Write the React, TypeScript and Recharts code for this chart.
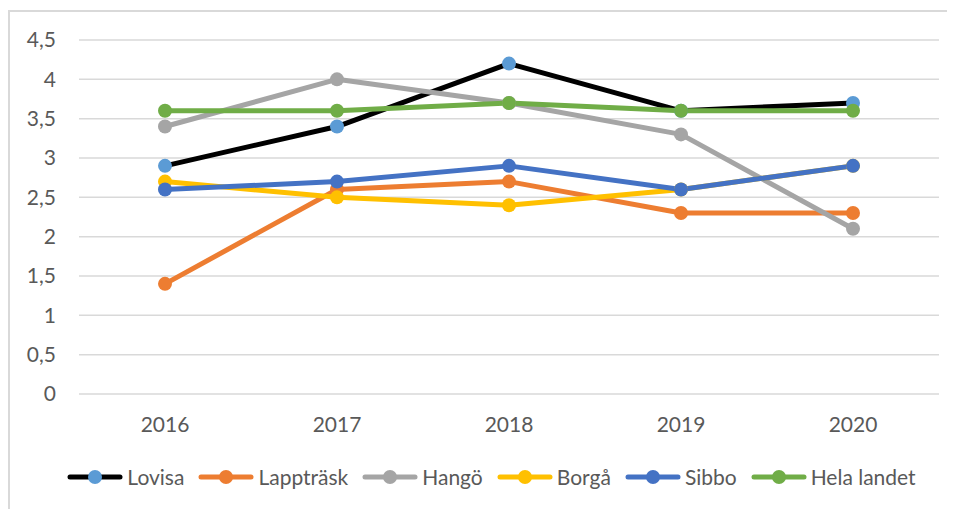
import React from "react";
import {
  LineChart,
  Line,
  XAxis,
  YAxis,
  CartesianGrid,
  Legend,
} from "recharts";

const years = ["2016", "2017", "2018", "2019", "2020"];
const lovisa = [2.9, 3.4, 4.2, 3.6, 3.7];
const lapptrask = [1.4, 2.6, 2.7, 2.3, 2.3];
const hango = [3.4, 4.0, 3.7, 3.3, 2.1];
const borga = [2.7, 2.5, 2.4, 2.6, 2.9];
const sibbo = [2.6, 2.7, 2.9, 2.6, 2.9];
const helaLandet = [3.6, 3.6, 3.7, 3.6, 3.6];
const yTicks = [0, 0.5, 1, 1.5, 2, 2.5, 3, 3.5, 4, 4.5];

type Series = {
  key: string;
  name: string;
  values: number[];
  line: string;
  marker: string;
};

const series: Series[] = [
  { key: "lovisa", name: "Lovisa", values: lovisa, line: "#000000", marker: "#5b9bd5" },
  { key: "lapptrask", name: "Lappträsk", values: lapptrask, line: "#ed7d31", marker: "#ed7d31" },
  { key: "hango", name: "Hangö", values: hango, line: "#a5a5a5", marker: "#a5a5a5" },
  { key: "borga", name: "Borgå", values: borga, line: "#ffc000", marker: "#ffc000" },
  { key: "sibbo", name: "Sibbo", values: sibbo, line: "#4472c4", marker: "#4472c4" },
  { key: "hela", name: "Hela landet", values: helaLandet, line: "#70ad47", marker: "#70ad47" },
];

const data = years.map((year, i) => {
  const row: Record<string, string | number> = { year };
  series.forEach((s) => {
    row[s.key] = s.values[i];
  });
  return row;
});

const FONT = "Lato, 'Open Sans', sans-serif";
const TEXT = "#595959";

const LegendContent = () => (
  <div
    style={{
      display: "flex",
      justifyContent: "center",
      alignItems: "center",
      fontFamily: FONT,
      fontSize: 21,
      color: TEXT,
    }}
  >
    {series.map((s, i) => (
      <div
        key={s.key}
        style={{
          display: "flex",
          alignItems: "center",
          marginRight: i === series.length - 1 ? 0 : 14,
        }}
      >
        <svg width={56} height={16} style={{ marginRight: 4 }}>
          <line x1={3} y1={8} x2={53} y2={8} stroke={s.line} strokeWidth={5} strokeLinecap="round" />
          <circle cx={28} cy={8} r={7} fill={s.marker} />
        </svg>
        <span>{s.name}</span>
      </div>
    ))}
  </div>
);

export default function App() {
  return (
    <div
      style={{
        marginTop: 2,
        width: 947,
        height: 499,
        borderLeft: "2px solid #d9d9d9",
        borderTop: "2px solid #d9d9d9",
        background: "#fff",
      }}
    >
      <LineChart
        width={945}
        height={497}
        data={data}
        margin={{ top: 28, right: 16, left: 9, bottom: 65 }}
      >
        <CartesianGrid vertical={false} stroke="#d9d9d9" strokeWidth={1.5} />
        <XAxis
          dataKey="year"
          height={50}
          padding={{ left: 86, right: 86 }}
          axisLine={false}
          tickLine={false}
          tickSize={8}
          tickMargin={15}
          tick={{ fill: TEXT, fontSize: 21, fontFamily: FONT }}
        />
        <YAxis
          width={60}
          domain={[0, 4.5]}
          ticks={yTicks}
          interval={0}
          axisLine={false}
          tickLine={false}
          tickSize={8}
          tickMargin={15}
          tickFormatter={(v: number) => String(v).replace(".", ",")}
          tick={{ fill: TEXT, fontSize: 21, fontFamily: FONT }}
        />
        <Legend
          verticalAlign="middle"
          layout="horizontal"
          content={<LegendContent />}
          wrapperStyle={{ top: 452, left: 9, width: 945 }}
        />
        {series.map((s) => (
          <Line
            key={s.key}
            dataKey={s.key}
            name={s.name}
            stroke={s.line}
            strokeWidth={5}
            strokeLinejoin="round"
            dot={{ r: 7, fill: s.marker, stroke: s.marker, strokeWidth: 0 }}
            activeDot={false}
            isAnimationActive={false}
          />
        ))}
      </LineChart>
    </div>
  );
}
